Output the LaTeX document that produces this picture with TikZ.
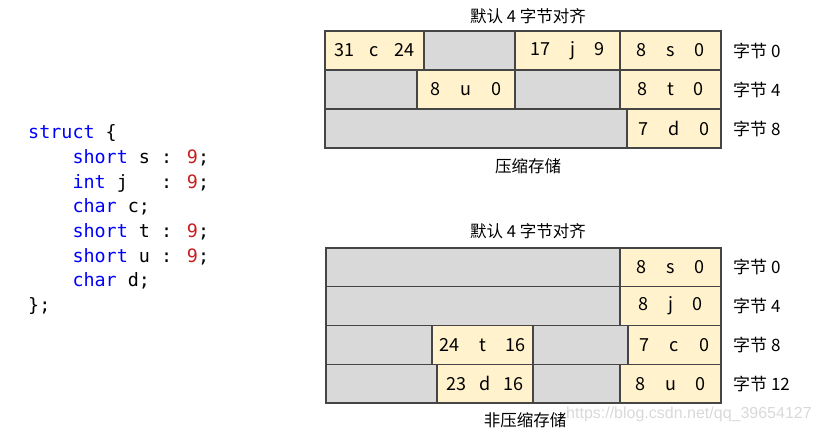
\documentclass[tikz,border=0pt]{standalone}
\usepackage{fontspec}
\usetikzlibrary{positioning}
\setmainfont{Noto Sans CJK SC}
\newfontfamily\codefont{DejaVu Sans Mono}
\newfontfamily\markfont{Liberation Sans}
\definecolor{cellyellow}{HTML}{FFF2CC}
\definecolor{cellgray}{HTML}{D9D9D9}
\definecolor{cellline}{HTML}{454545}
\definecolor{kwblue}{HTML}{0000FF}
\definecolor{numred}{HTML}{C81E1E}
\newcommand{\kw}[1]{\textcolor{kwblue}{#1}}
\newcommand{\bitw}[1]{\textcolor{numred}{#1}}
\newcommand{\trio}[3]{#1\hspace{20pt}#2\hspace{20pt}#3}
\newcommand{\ind}{\hphantom{xxxx}}

\begin{document}
\begin{tikzpicture}[x=1pt, y=-1pt,
    cell/.style={draw=cellline, line width=1.2pt, anchor=north west, inner sep=0pt, outer sep=0pt, font=\fontsize{18}{20}\selectfont},
    used/.style={cell, fill=cellyellow},
    free/.style={cell, fill=cellgray},
    lbl/.style={inner sep=0pt, font=\fontsize{17}{19}\selectfont},
    title/.style={inner sep=0pt, font=\fontsize{16.5}{19}\selectfont}]
    \useasboundingbox (0,0) rectangle (821,432);

    % struct source
    \node[anchor=north west, inner sep=0pt, align=left, font=\codefont\fontsize{18.4}{24.7}\selectfont] (code) at (28,124.5) {%
        \kw{struct} \{\\
        \ind\kw{short} s : \bitw{9};\\
        \ind\kw{int} j\ \ \ : \bitw{9};\\
        \ind\kw{char} c;\\
        \ind\kw{short} t : \bitw{9};\\
        \ind\kw{short} u : \bitw{9};\\
        \ind\kw{char} d;\\
        \};};

    % packed layout
    \node[title] (packtitle) at (528,16) {默认 4 字节对齐};
    \foreach \cname/\xa/\xb/\ya/\kind/\txt in {
        pa1/325/424/31/used/{31\hspace{15pt}c\hspace{15pt}24}, pa2/424/515/31/free/{},
        pa3/515/620/31/used/{\trio{17}{j}{9}}, pa4/620/721/31/used/{\trio{8}{s}{0}},
        pb1/325/417/70/free/{}, pb2/417/515/70/used/{\trio{8}{u}{0}},
        pb3/515/620/70/free/{}, pb4/620/721/70/used/{\trio{8}{t}{0}},
        pc1/325/627/109/free/{}, pc2/627/721/109/used/{\trio{7}{d}{0}}}
        \node[\kind, minimum width={(\xb-\xa)*1pt}, minimum height=39pt] (\cname) at (\xa,\ya) {\txt};
    \node[lbl, right=12pt of pa4] {字节 0};
    \node[lbl, right=12pt of pb4] {字节 4};
    \node[lbl, right=12pt of pc2] {字节 8};
    \node[title] (packname) at (528,166) {压缩存储};

    % unpacked layout
    \node[title] (plaintitle) at (528,231) {默认 4 字节对齐};
    \foreach \cname/\xa/\xb/\ya/\kind/\txt in {
        ua1/326/620/248/free/{}, ua2/620/721/248/used/{\trio{8}{s}{0}},
        ub1/326/620/286.75/free/{}, ub2/620/721/286.75/used/{\trio{8}{j}{0}},
        uc1/326/432/325.5/free/{}, uc2/432/533/325.5/used/{\trio{24}{t}{16}},
        uc3/533/628/325.5/free/{}, uc4/628/721/325.5/used/{\trio{7}{c}{0}},
        ud1/326/437/364.25/free/{}, ud2/437/533/364.25/used/{23\hspace{13pt}d\hspace{13pt}16},
        ud3/533/620/364.25/free/{}, ud4/620/721/364.25/used/{\trio{8}{u}{0}}}
        \node[\kind, minimum width={(\xb-\xa)*1pt}, minimum height=38.75pt] (\cname) at (\xa,\ya) {\txt};
    \node[lbl, right=12pt of ua2] {字节 0};
    \node[lbl, right=12pt of ub2] {字节 4};
    \node[lbl, right=12pt of uc4] {字节 8};
    \node[lbl, right=12pt of ud4] {字节 12};
    \node[title] (plainname) at (525,420) {非压缩存储};

    \node[anchor=west, inner sep=0pt, text=gray!30, font=\markfont\fontsize{16}{18}\selectfont] (mark) at (566,414) {https://blog.csdn.net/qq\_39654127};
\end{tikzpicture}
\end{document}
